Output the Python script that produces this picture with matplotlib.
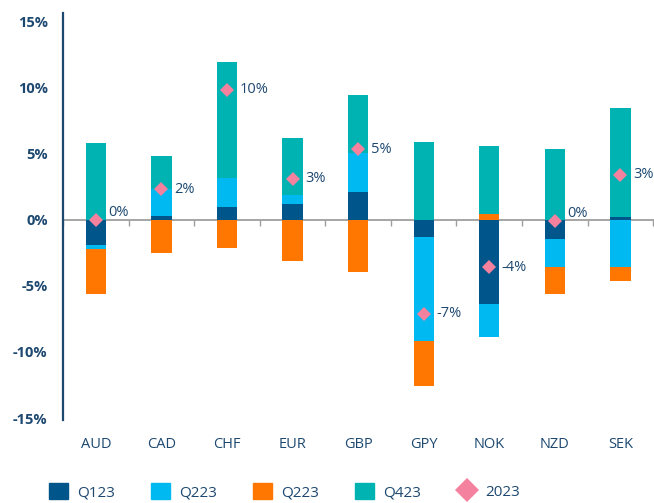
import numpy as np
import matplotlib
matplotlib.use("Agg")
import matplotlib.pyplot as plt
from matplotlib.patches import Patch
from matplotlib.lines import Line2D

# data (% contribution per quarter)
currencies = ["AUD", "CAD", "CHF", "EUR", "GBP", "GPY", "NOK", "NZD", "SEK"]
q1 = [-1.9, 0.25, 0.95, 1.2, 2.05, -1.3, -6.35, -1.45, 0.2]
q2 = [-0.3, 2.05, 2.2, 0.65, 2.95, -7.9, -2.5, -2.15, -3.6]
q3 = [-3.4, -2.5, -2.15, -3.1, -3.95, -3.35, 0.4, -2.05, -1.05]
q4 = [5.8, 2.5, 8.75, 4.35, 4.4, 5.85, 5.15, 5.3, 8.2]
total_2023 = [0.0, 2.3, 9.8, 3.1, 5.3, -7.1, -3.6, -0.1, 3.4]
total_labels = ["0%", "2%", "10%", "3%", "5%", "-7%", "-4%", "0%", "3%"]
series_names = ["Q123", "Q223", "Q223", "Q423"]
y_ticks = [-15, -10, -5, 0, 5, 10, 15]

colors = ["#00558A", "#00B9F1", "#FF7700", "#00B3B3"]
pink = "#F4819E"
navy = "#1D4870"

plt.rcParams['font.family'] = ['Open Sans', 'DejaVu Sans']

fig = plt.figure(figsize=(6.54, 5.03), dpi=100)
ax = fig.add_axes([0.0963, 0.165, 0.9025, 0.81])

x = np.arange(len(currencies))
pos_base = np.zeros(len(x))
neg_base = np.zeros(len(x))
for vals, c, name in zip([q1, q2, q3, q4], colors, series_names):
    vals = np.array(vals)
    bottoms = np.where(vals >= 0, pos_base, neg_base)
    ax.bar(x, vals, 0.31, bottom=bottoms, color=c, label=name, zorder=2)
    pos_base += np.where(vals >= 0, vals, 0)
    neg_base += np.where(vals < 0, vals, 0)

ax.plot(x, total_2023, linestyle="none", marker="D", markersize=7.5,
        color=pink, markeredgewidth=0, zorder=4)
for xi, v, lab in zip(x, total_2023, total_labels):
    dy = 5 if abs(v) < 0.5 else 0
    ax.annotate(lab, (xi, v), xytext=(9, dy), textcoords="offset points",
                va="center", ha="left", fontsize=10.5, color=navy)

ax.set_xlim(-0.5, 8.5)
ax.set_ylim(-15.15, 15.65)
ax.set_yticks(y_ticks)
ax.set_yticklabels([f"{t}%" for t in y_ticks], fontsize=10.5,
                   fontweight="bold", color=navy)
ax.set_xticks(x)
ax.set_xticklabels(currencies, fontsize=10.5, color=navy)
ax.tick_params(axis="both", length=0)
ax.tick_params(axis="x", pad=12)
ax.tick_params(axis="y", pad=11)

for s in ["top", "right", "bottom"]:
    ax.spines[s].set_visible(False)
ax.spines["left"].set_color(navy)
ax.spines["left"].set_linewidth(1.6)

# zero line with small ticks between categories
zero = ax.secondary_xaxis(0, transform=ax.transData)
zero.set_xticks(np.arange(-0.5, 9, 1.0))
zero.set_xticklabels([])
zero.tick_params(axis="x", direction="out", length=4, width=1, color="#9E9E9E")
zero.spines["bottom"].set_color("#9E9E9E")
zero.spines["bottom"].set_linewidth(1.3)
zero.spines["bottom"].set_zorder(3)

handles = [Patch(color=c) for c in colors]
handles.append(Line2D([], [], linestyle="none", marker="D", markersize=12,
                      color=pink, markeredgewidth=0))
names = series_names + ["2023"]
fig.legend(handles, names, loc="center", bbox_to_anchor=(0.435, 0.022),
           ncol=5, frameon=False, fontsize=11, labelcolor=navy,
           handlelength=1.2, handleheight=1.2, handletextpad=0.6,
           columnspacing=2.4, borderpad=0.2)

fig.savefig("out.png", dpi=100)
